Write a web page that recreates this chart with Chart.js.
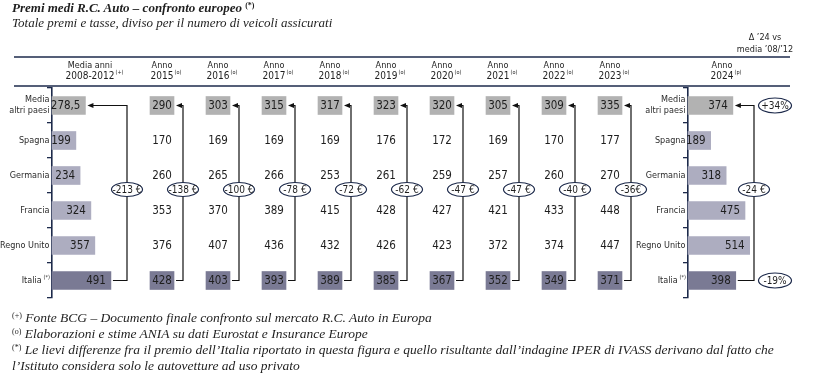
<!DOCTYPE html>
<html>
<head>
<meta charset="utf-8">
<script src="https://cdn.jsdelivr.net/npm/chart.js@4/dist/chart.umd.min.js"></script>
<style>
  body { margin: 0; width: 816px; height: 384px; position: relative; overflow: hidden; background: #fff; color: #1e1e1e; }
  #chart { position: absolute; left: 0; top: 0; }
  .serif { position: absolute; left: 12px; font-family: 'Liberation Serif', 'DejaVu Serif', serif; font-style: italic; white-space: nowrap; }
  .title { top: 0; font-size: 13px; font-weight: bold; line-height: 16px; }
  .sub { top: 15px; font-size: 13px; line-height: 16px; }
  .notes { top: 310px; font-size: 13.5px; line-height: 16px; }
  sup { font-size: 8px; vertical-align: 4px; line-height: 0; font-style: normal; }
</style>
</head>
<body>
<canvas id="chart" width="816" height="384"></canvas>
<div class="serif title">Premi medi R.C. Auto – confronto europeo <sup>(*)</sup></div>
<div class="serif sub">Totale premi e tasse, diviso per il numero di veicoli assicurati</div>
<div class="serif notes">
  <sup>(+)</sup> Fonte BCG – Documento finale confronto sul mercato R.C. Auto in Europa<br>
  <sup>(o)</sup> Elaborazioni e stime ANIA su dati Eurostat e Insurance Europe<br>
  <sup>(*)</sup> Le lievi differenze fra il premio dell’Italia riportato in questa figura e quello risultante dall’indagine IPER di IVASS derivano dal fatto che<br>
  l’Istituto considera solo le autovetture ad uso privato
</div>
<script>
// ── Data ─────────────────────────────────────────────────────────────────────
const rowLabels = [['Media', 'altri paesi'], 'Spagna', 'Germania', 'Francia', 'Regno Unito', 'Italia'];
const years     = ['2015', '2016', '2017', '2018', '2019', '2020', '2021', '2022', '2023'];

const avg0812 = [278.5, 199, 234, 324, 357, 491];
const y2015   = [290, 170, 260, 353, 376, 428];
const y2016   = [303, 169, 265, 370, 407, 403];
const y2017   = [315, 169, 266, 389, 436, 393];
const y2018   = [317, 169, 253, 415, 432, 389];
const y2019   = [323, 176, 261, 428, 426, 385];
const y2020   = [320, 172, 259, 427, 423, 367];
const y2021   = [305, 169, 257, 421, 372, 352];
const y2022   = [309, 170, 260, 433, 374, 349];
const y2023   = [335, 177, 270, 448, 447, 371];
const y2024   = [374, 189, 318, 475, 514, 398];
const yearVals = [y2015, y2016, y2017, y2018, y2019, y2020, y2021, y2022, y2023];

const gapLabels = ['-213 €', '-138 €', '-100 €', '-78 €', '-72 €', '-62 €', '-47 €', '-47 €', '-40 €', '-36€', '-24 €'];
const pctLabels = ['+34%', '-19%'];

// ── Layout / style ───────────────────────────────────────────────────────────
const PX_PER_EURO = 0.12;           // bar length scale
const X_MAX       = 816 / PX_PER_EURO;
const u = p => p / PX_PER_EURO;     // pixel position -> x axis units
const LEFT_AXIS = 52, RIGHT_AXIS = 688;
const COL0 = 162, COL_STEP = 56, BOX_W = 24;
const colX = k => COL0 + COL_STEP * k;

const SANS  = "'Liberation Sans Narrow','DejaVu Sans Condensed','Arial Narrow',sans-serif";
const NAVY  = '#1d2a4b';
const INK   = '#1e1e1e';
const GREY  = '#b2b2b2', LAV = '#adadc0', DARK = '#7a7a94';
const rowColors = [GREY, LAV, LAV, LAV, LAV, DARK];
const VAL_SIZE = 11.5;

function txt(ctx, s, x, y, size, align, color) {
  ctx.font = size + 'px ' + SANS;
  ctx.textAlign = align;
  ctx.textBaseline = 'middle';
  ctx.fillStyle = color || INK;
  ctx.fillText(s, x, y);
}
const fmt = v => String(v).replace('.', ',');

function head(ctx, l1, l2, sup, cx) {
  txt(ctx, l1, cx, 66, 9, 'center');
  txt(ctx, l2, cx, 76, 10, 'center');
  ctx.font = '10px ' + SANS;
  const w = ctx.measureText(l2).width;
  txt(ctx, sup, cx + w / 2 + 1, 73, 5.5, 'left');
}

function connector(ctx, topX, botX, vx, yTop, yBot) {
  ctx.strokeStyle = '#111';
  ctx.lineWidth = 1.2;
  ctx.beginPath();
  ctx.moveTo(botX + 2, yBot);
  ctx.lineTo(vx, yBot);
  ctx.lineTo(vx, yTop);
  ctx.lineTo(topX + 7, yTop);
  ctx.stroke();
  ctx.fillStyle = '#111';
  ctx.beginPath();
  ctx.moveTo(topX + 2, yTop);
  ctx.lineTo(topX + 8, yTop - 2.5);
  ctx.lineTo(topX + 8, yTop + 2.5);
  ctx.closePath();
  ctx.fill();
}

function oval(ctx, s, x, y, rx, ry) {
  ctx.beginPath();
  ctx.ellipse(x, y, rx, ry, 0, 0, Math.PI * 2);
  ctx.fillStyle = '#fff';
  ctx.fill();
  ctx.strokeStyle = NAVY;
  ctx.lineWidth = 1.2;
  ctx.stroke();
  txt(ctx, s, x, y + 0.5, 10, 'center');
}

// ── Datasets ─────────────────────────────────────────────────────────────────
const datasets = [];
datasets.push({ label: 'Media 2008-2012', data: avg0812.map(v => [u(LEFT_AXIS), u(LEFT_AXIS) + v]),
                backgroundColor: rowColors, vals: avg0812 });
yearVals.forEach((vals, k) => {
  const cx = colX(k);
  datasets.push({ label: years[k],
                  data: vals.map((v, i) => (i === 0 || i === 5) ? [u(cx - BOX_W / 2), u(cx + BOX_W / 2)] : null),
                  backgroundColor: rowColors, vals });
});
datasets.push({ label: '2024', data: y2024.map(v => [u(RIGHT_AXIS), u(RIGHT_AXIS) + v]),
                backgroundColor: rowColors, vals: y2024 });
datasets.forEach(d => { d.grouped = false; d.barThickness = 18; d.borderWidth = 0; });

// ── Plugins ──────────────────────────────────────────────────────────────────
const tablePlugin = {
  id: 'table',
  afterDatasetsDraw(chart) {
    const ctx = chart.ctx, ys = chart.scales.y;
    const last = datasets.length - 1;
    ctx.save();

    // header rules and column headings
    ctx.strokeStyle = NAVY;
    ctx.lineWidth = 1.4;
    [57, 86].forEach(y => { ctx.beginPath(); ctx.moveTo(14, y); ctx.lineTo(790, y); ctx.stroke(); });
    head(ctx, 'Media anni', '2008-2012', '(+)', 90);
    years.forEach((yr, k) => head(ctx, 'Anno', yr, '(o)', colX(k)));
    head(ctx, 'Anno', '2024', '(p)', 722);
    txt(ctx, 'Δ \u201924 vs', 765, 38, 9, 'center');
    txt(ctx, 'media \u201908/\u201912', 765, 50, 9, 'center');

    // connectors + difference ovals
    const yTop = ys.getPixelForValue(0), yBot = ys.getPixelForValue(5);
    const yOval = ys.getPixelForValue(2.4);
    datasets.forEach((d, k) => {
      const els = chart.getDatasetMeta(k).data;
      const right = el => Math.max(el.x, el.base);
      const vx = k === 0 ? 127 : (k === last ? 754 : colX(k - 1) + BOX_W / 2 + 9);
      connector(ctx, right(els[0]), right(els[5]), vx, yTop, yBot);
      oval(ctx, gapLabels[k], vx, yOval, 15.5, 7);
    });
    oval(ctx, pctLabels[0], 775, yTop, 16.5, 7.5);
    oval(ctx, pctLabels[1], 775, yBot, 16.5, 7.5);

    // values
    [0, last].forEach(k => {
      const els = chart.getDatasetMeta(k).data;
      datasets[k].vals.forEach((v, i) => txt(ctx, fmt(v), Math.max(els[i].x, els[i].base) - 5, ys.getPixelForValue(i) + 0.5, VAL_SIZE, 'right'));
    });
    yearVals.forEach((vals, k) => {
      vals.forEach((v, i) => txt(ctx, fmt(v), colX(k), ys.getPixelForValue(i) + 0.5, VAL_SIZE, 'center'));
    });

    // superscript after "Italia" on both axes
    [LEFT_AXIS, RIGHT_AXIS].forEach(ax => txt(ctx, '(*)', ax - 8.5, yBot - 3, 5.5, 'left'));
    ctx.restore();
  }
};

// labels sit right on an axis placed by value, so pad them with trailing spaces
const PAD = ' ';
const axisOpts = x => ({
  type: 'category',
  position: { x: u(x) },
  offset: true,
  grid: { offset: true, drawOnChartArea: false, tickLength: 4, color: NAVY, lineWidth: 1.3 },
  border: { color: NAVY, width: 1.6 },
  ticks: {
    font: { family: SANS, size: 9 }, color: '#2a2a2a', padding: 1,
    callback(value, index) {
      const l = this.getLabelForValue(value);
      if (Array.isArray(l)) return l.map(s => s + PAD);
      return index === 5 ? l + '    ' : l + PAD;
    }
  }
});

new Chart(document.getElementById('chart'), {
  type: 'bar',
  data: { labels: rowLabels, datasets },
  options: {
    indexAxis: 'y',
    responsive: false,
    animation: false,
    devicePixelRatio: 1,
    layout: { padding: { top: 88, bottom: 86, left: 0, right: 0 } },
    plugins: { legend: { display: false }, tooltip: { enabled: false } },
    scales: {
      x:  { type: 'linear', min: 0, max: X_MAX, display: false },
      y:  axisOpts(LEFT_AXIS),
      y2: axisOpts(RIGHT_AXIS)
    }
  },
  plugins: [tablePlugin]
});
</script>
</body>
</html>
